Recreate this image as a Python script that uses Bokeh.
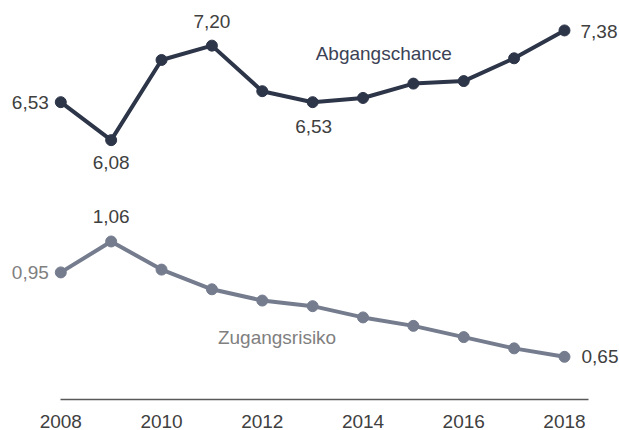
from bokeh.plotting import figure
from bokeh.models import Range1d, FixedTicker
from bokeh.core.properties import value
from bokeh.embed import file_html
from bokeh.resources import INLINE

years = [2008, 2009, 2010, 2011, 2012, 2013, 2014, 2015, 2016, 2017, 2018]
abgangschance = [6.53, 6.08, 7.03, 7.20, 6.66, 6.53, 6.58, 6.75, 6.78, 7.05, 7.38]
zugangsrisiko = [0.95, 1.06, 0.96, 0.89, 0.85, 0.83, 0.79, 0.76, 0.72, 0.68, 0.65]
tick_years = [2008, 2010, 2012, 2014, 2016, 2018]

DARK = "#2d3549"
GRAY = "#747c8e"
TXT = "#404040"
TXT_GRAY = "#808080"
FONT = "Liberation Sans"
FS = "19px"

p = figure(width=619, height=430, output_backend="svg", toolbar_location=None,
           x_range=Range1d(2006.803, 2019.092), y_range=Range1d(3.0067, 7.7348),
           y_axis_location=None,
           min_border_left=0, min_border_right=0, min_border_top=0, min_border_bottom=30)
p.extra_y_ranges = {"z": Range1d(0.4982, 1.9167)}
p.grid.visible = False
p.outline_line_color = None
p.background_fill_color = "white"
p.border_fill_color = "white"

ax = p.xaxis[0]
ax.ticker = FixedTicker(ticks=tick_years)
ax.bounds = (2008, 2018.48)
ax.major_tick_line_color = None
ax.minor_tick_line_color = None
ax.axis_line_color = "#595959"
ax.axis_line_width = 1.5
ax.major_label_standoff = 9
ax.major_label_text_font = FONT
ax.major_label_text_font_size = FS
ax.major_label_text_color = TXT

# lines
p.line(years, abgangschance, line_color=DARK, line_width=4)
p.scatter(years, abgangschance, size=11, fill_color=DARK, line_color=DARK)
p.line(years, zugangsrisiko, line_color=GRAY, line_width=4, y_range_name="z")
p.scatter(years, zugangsrisiko, size=11, fill_color=GRAY, line_color=GRAY, y_range_name="z")


def fmt(v):
    return f"{v:.2f}".replace(".", ",")


def label(series, i, align, dx, dy, color, rng="default"):
    kw = {} if rng == "default" else {"y_range_name": rng}
    p.text(x=[years[i]], y=[series[i]], text=[fmt(series[i])],
           text_align=align, text_baseline="middle", x_offset=dx, y_offset=dy,
           text_font=value(FONT), text_font_size=FS, text_color=color, **kw)


label(abgangschance, 0, "right", -12, 0, TXT)
label(abgangschance, 1, "center", 0, 22, TXT)
label(abgangschance, 3, "center", 0, -24, TXT)
label(abgangschance, 5, "center", 1, 24, TXT)
label(abgangschance, 10, "left", 16, 1, TXT)

label(zugangsrisiko, 0, "right", -12, 0, TXT_GRAY, "z")
label(zugangsrisiko, 1, "center", 0, -25, TXT, "z")
label(zugangsrisiko, 10, "left", 17, 0, TXT, "z")

# series names
p.text(x=[2013], y=[7.11], text=["Abgangschance"], text_align="left", text_baseline="middle",
       x_offset=3, text_font=value(FONT), text_font_size=FS, text_color="#3b4256")
p.text(x=[2011], y=[0.717], text=["Zugangsrisiko"], text_align="left", text_baseline="middle",
       x_offset=6, text_font=value(FONT), text_font_size=FS, text_color=TXT_GRAY, y_range_name="z")

open("out.html", "w").write(file_html(p, INLINE))
